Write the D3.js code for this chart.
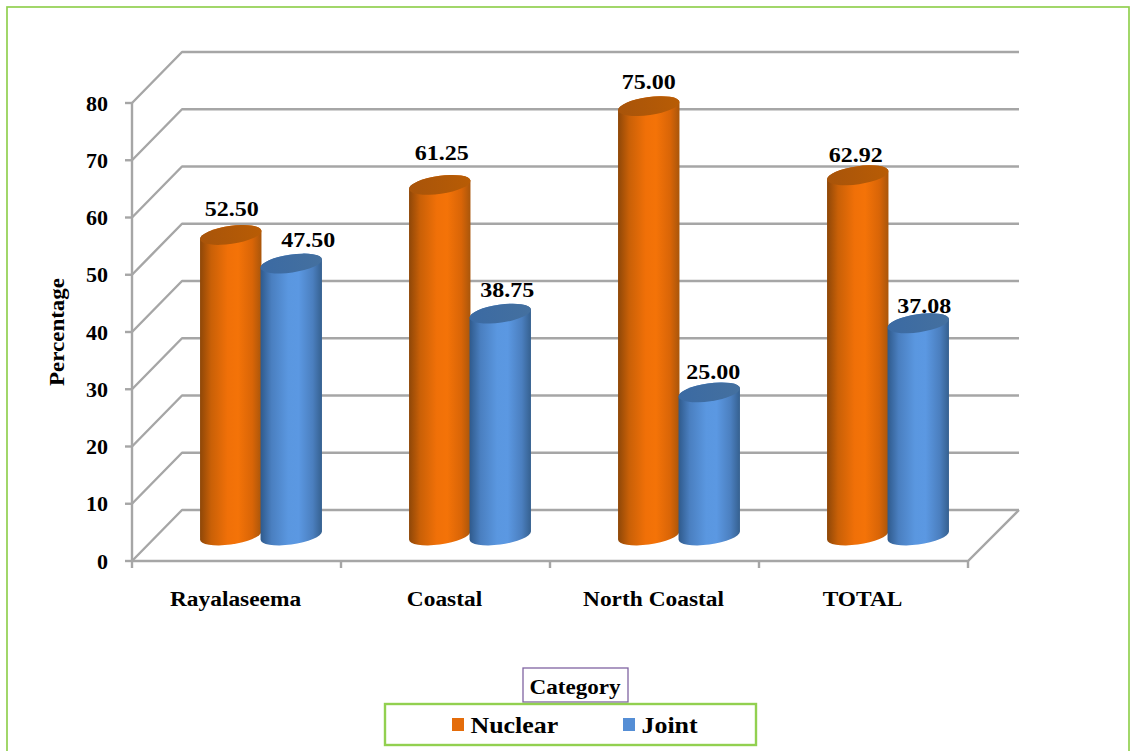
<!DOCTYPE html>
<html>
<head>
<meta charset="utf-8">
<script src="https://cdn.jsdelivr.net/npm/d3@7/dist/d3.min.js"></script>
<style>
html,body{margin:0;padding:0;background:#fff;}
svg{display:block;}
text{font-family:"Liberation Serif",serif;font-weight:bold;fill:#000;}
</style>
</head>
<body>
<svg id="chart" width="1130" height="751"></svg>
<script>
const categories = ["Rayalaseema", "Coastal", "North Coastal", "TOTAL"];
const seriesNames = ["Nuclear", "Joint"];
const nuclearValues = [52.50, 61.25, 75.00, 62.92];
const jointValues = [47.50, 38.75, 25.00, 37.08];
const yTicks = [0, 10, 20, 30, 40, 50, 60, 70, 80];

// Per-label nudges so the value labels clear the cylinder caps
const nuclearLabelShift = [[1, -25], [2, -31], [0, -24], [-2, -20]];
const jointLabelShift = [[17, -23], [7, -23], [4, -20], [6, -17]];

const svg = d3.select("#chart");
const gridColor = "#a6a6a6";
const frameGreen = "#92d050";

// Plot geometry: the front plane plus a fixed oblique depth
const depthX = 51, depthY = 51;
const x = d3.scaleBand().domain(categories).range([132, 968]);
const y = d3.scaleLinear().domain([0, 80]).range([561, 103]);
const inner = d3.scaleBand().domain(seriesNames).range([-61, 60]);
const barCenterX = (c, s) => x(c) + x.bandwidth() / 2 + depthX / 2 + inner(s) + inner.bandwidth() / 2 - 0.5;
const barY = v => y(v) - depthY / 2;
const rx = 31, ry = 9, tilt = -8.2;

// Bold serif text stretched horizontally about its anchor point
function wideText(sel, xPos, yPos, size, stretch, anchor) {
  return sel
    .attr("transform", (d, i) => `translate(${xPos(d, i)},${yPos(d, i)}) scale(${stretch},1)`)
    .attr("text-anchor", anchor)
    .attr("font-size", size);
}

// Outer page frame
svg.append("rect").attr("x", 7).attr("y", 7).attr("width", 1122).attr("height", 760)
  .attr("fill", "none").attr("stroke", frameGreen).attr("stroke-width", 1.7);

// Gradients for the cylinder sides and caps
const defs = svg.append("defs");
const palette = {
  Nuclear: { side: ["#8e4708", "#c96007", "#f07008", "#f47308", "#d96507", "#a9560b"], cap: ["#a8540a", "#b85c05"], key: "#e46c0a" },
  Joint: { side: ["#2f5a8c", "#4a7fc0", "#5a97e0", "#5b98e2", "#4b7fbf", "#35608f"], cap: ["#3b6aa3", "#44709f"], key: "#558ed5" }
};
const stops = [0, 0.18, 0.45, 0.62, 0.85, 1];
seriesNames.forEach(s => {
  const g = defs.append("linearGradient").attr("id", "side-" + s);
  palette[s].side.forEach((c, i) => g.append("stop").attr("offset", stops[i]).attr("stop-color", c));
  const t = defs.append("linearGradient").attr("id", "cap-" + s);
  palette[s].cap.forEach((c, i) => t.append("stop").attr("offset", i).attr("stop-color", c));
});

// Back wall gridlines and side wall diagonals
const grid = svg.append("g").attr("fill", "none").attr("stroke", gridColor).attr("stroke-width", 2.4);
grid.selectAll("path.wall").data(yTicks).join("path").attr("class", "wall")
  .attr("stroke-linejoin", "round")
  .attr("d", t => d3.line()([[132, y(t)], [132 + depthX - 1, y(t) - depthY], [968 + depthX, y(t) - depthY]]));

// Floor front edge and right side
grid.append("path").attr("d", d3.line()([[132, y(0)], [968, y(0)], [968 + depthX, y(0) - depthY]]));

// Vertical axis with outward ticks
grid.append("line").attr("x1", 132).attr("x2", 132).attr("y1", y(80)).attr("y2", y(0));
grid.selectAll("line.ytick").data(yTicks).join("line").attr("class", "ytick")
  .attr("x1", 125).attr("x2", 132).attr("y1", d => y(d)).attr("y2", d => y(d));

// Category ticks under the floor edge
const xEdges = [...categories.map(c => x(c)), 968];
grid.selectAll("line.xtick").data(xEdges).join("line").attr("class", "xtick")
  .attr("x1", d => d).attr("x2", d => d).attr("y1", y(0)).attr("y2", y(0) + 7);

// Tick labels
svg.selectAll("text.ylab").data(yTicks).join("text").attr("class", "ylab")
  .call(wideText, () => 108, d => y(d) + 7.5, 20, 1.1, "end").text(d => d);

svg.selectAll("text.xlab").data(categories).join("text").attr("class", "xlab")
  .call(wideText, c => x(c) + x.bandwidth() / 2 - 1, () => 605.5, 20, 1.17, "middle").text(c => c);

svg.append("text")
  .attr("transform", "translate(64,332) rotate(-90) scale(1.15,1)")
  .attr("text-anchor", "middle").attr("font-size", 20).text("Percentage");

// Cylinder outline: from the top cap down to the rounded foot
function cylinderPath(cx, top, bottom) {
  const th = tilt * Math.PI / 180;
  const t = Math.atan(-(ry / rx) * Math.tan(th));
  const ex = rx * Math.cos(t) * Math.cos(th) - ry * Math.sin(t) * Math.sin(th);
  const ey = rx * Math.cos(t) * Math.sin(th) + ry * Math.sin(t) * Math.cos(th);
  return `M${cx - ex},${top - ey}L${cx - ex},${bottom - ey}` +
    `A${rx},${ry} ${tilt} 0 0 ${cx + ex},${bottom + ey}L${cx + ex},${top + ey}` +
    `A${rx},${ry} ${tilt} 0 0 ${cx - ex},${top - ey}Z`;
}

const rows = categories.flatMap((c, i) => [
  { c, s: "Nuclear", v: nuclearValues[i], shift: nuclearLabelShift[i] },
  { c, s: "Joint", v: jointValues[i], shift: jointLabelShift[i] }
]);

const bars = svg.append("g").selectAll("g").data(rows).join("g");
bars.append("path")
  .attr("d", d => cylinderPath(barCenterX(d.c, d.s), barY(d.v), barY(0)))
  .attr("fill", d => `url(#side-${d.s})`);
bars.append("ellipse")
  .attr("rx", rx).attr("ry", ry)
  .attr("transform", d => `translate(${barCenterX(d.c, d.s)},${barY(d.v)}) rotate(${tilt})`)
  .attr("fill", d => `url(#cap-${d.s})`);

// Value labels above each cylinder
svg.selectAll("text.val").data(rows).join("text").attr("class", "val")
  .call(wideText, d => barCenterX(d.c, d.s) + d.shift[0], d => barY(d.v) + d.shift[1] + 6.5, 20, 1.2, "middle")
  .text(d => d.v.toFixed(2));

// Legend title box
svg.append("rect").attr("x", 523).attr("y", 668).attr("width", 105).attr("height", 34)
  .attr("fill", "#fff").attr("stroke", "#8064a2").attr("stroke-width", 1.3);
svg.append("text").attr("transform", "translate(575,694) scale(1.1,1)")
  .attr("text-anchor", "middle").attr("font-size", 21).text("Category");

// Legend box with swatches
svg.append("rect").attr("x", 385).attr("y", 704).attr("width", 371).attr("height", 41)
  .attr("fill", "#fff").attr("stroke", frameGreen).attr("stroke-width", 2.4);
const legendX = d3.scaleOrdinal().domain(seriesNames).range([452, 623]);
const legend = svg.selectAll("g.leg").data(seriesNames).join("g").attr("class", "leg");
legend.append("rect").attr("x", s => legendX(s)).attr("y", 718).attr("width", 12).attr("height", 13)
  .attr("fill", s => palette[s].key);
legend.append("text")
  .call(wideText, s => legendX(s) + 18.5, () => 733, 24, 1.08, "start").text(s => s);
</script>
</body>
</html>
